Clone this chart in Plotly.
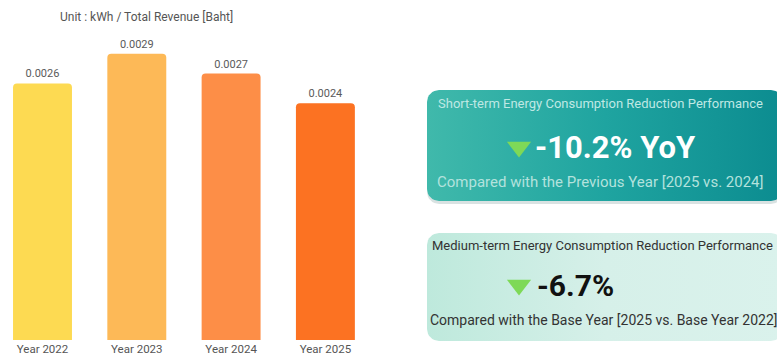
import math
import plotly.graph_objects as go

# Energy intensity per year
years = ["Year 2022", "Year 2023", "Year 2024", "Year 2025"]
intensity = [0.0026, 0.0029, 0.0027, 0.0024]
bar_colors = ["#FDDA52", "#FDB957", "#FD8E47", "#FC7222"]

unit_label = "Unit : kWh / Total Revenue [Baht]"

short_title = "Short-term Energy Consumption Reduction Performance"
short_value = "-10.2% YoY"
short_note = "Compared with the Previous Year [2025 vs. 2024]"

mid_title = "Medium-term Energy Consumption Reduction Performance"
mid_value = "-6.7%"
mid_note = "Compared with the Base Year [2025 vs. Base Year 2022]"

W, H = 777, 360
FONT = "Roboto"


def rounded_rect(x0, y0, x1, y1, r, n=8):
    """Closed outline of a rounded rectangle in pixel space (y grows downward)."""
    xs, ys = [], []
    corners = [
        (x1 - r, y0 + r, -90, 0),
        (x1 - r, y1 - r, 0, 90),
        (x0 + r, y1 - r, 90, 180),
        (x0 + r, y0 + r, 180, 270),
    ]
    for cx, cy, a0, a1 in corners:
        for i in range(n + 1):
            a = math.radians(a0 + (a1 - a0) * i / n)
            xs.append(cx + r * math.cos(a))
            ys.append(cy + r * math.sin(a))
    xs.append(xs[0])
    ys.append(ys[0])
    return xs, ys


fig = go.Figure()

fig.add_trace(go.Bar(
    x=years,
    y=intensity,
    width=0.625,
    marker=dict(color=bar_colors, cornerradius=4, line=dict(width=0)),
    text=[f"{v:.4f}" for v in intensity],
    textposition="outside",
    textfont=dict(family=FONT, size=11, color="#5A5A5A"),
    cliponaxis=False,
    hoverinfo="skip",
    showlegend=False,
    xaxis="x",
    yaxis="y",
))

# Panel backgrounds
bx0, bx1 = 427, 777
sx, sy = rounded_rect(bx0, 90, bx1 + 6, 201, 12)
fig.add_trace(go.Scatter(
    x=sx, y=[v + 3 for v in sy], mode="lines", fill="toself",
    fillcolor="rgba(0,60,60,0.15)", line=dict(width=0),
    hoverinfo="skip", showlegend=False, xaxis="x2", yaxis="y2",
))
fig.add_trace(go.Scatter(
    x=sx, y=sy, mode="lines", fill="toself",
    fillgradient=dict(type="horizontal",
                      colorscale=[[0, "#40B9AB"], [0.5, "#1FA4A0"], [1, "#0C8C90"]]),
    line=dict(width=0), hoverinfo="skip", showlegend=False, xaxis="x2", yaxis="y2",
))
mx, my = rounded_rect(bx0, 233, bx1 + 6, 341, 12)
fig.add_trace(go.Scatter(
    x=mx, y=my, mode="lines", fill="toself",
    fillgradient=dict(type="horizontal",
                      colorscale=[[0, "#BEE9DC"], [0.5, "#D6F0E9"], [1, "#DAF2EC"]]),
    line=dict(width=0), hoverinfo="skip", showlegend=False, xaxis="x2", yaxis="y2",
))

# Down arrows
fig.add_trace(go.Scatter(
    x=[519, 519], y=[147, 285], mode="markers",
    marker=dict(symbol="triangle-down", size=21, color="#7ED957", line=dict(width=0)),
    hoverinfo="skip", showlegend=False, xaxis="x2", yaxis="y2",
))

annotations = [
    dict(text=unit_label, x=58, y=17, xanchor="left", yanchor="middle",
         font=dict(family=FONT, size=12, color="#555555")),
    dict(text=short_title, x=600, y=103, xanchor="center", yanchor="middle",
         font=dict(family=FONT, size=13, color="#BFE8E4")),
    dict(text=f"<b>{short_value}</b>", x=533, y=147, xanchor="left", yanchor="middle",
         font=dict(family=FONT, size=31, color="#FFFFFF")),
    dict(text=short_note, x=600, y=182, xanchor="center", yanchor="middle",
         font=dict(family=FONT, size=15, color="#B3E2DD")),
    dict(text=mid_title, x=602, y=245, xanchor="center", yanchor="middle",
         font=dict(family=FONT, size=13, color="#333333")),
    dict(text=f"<b>{mid_value}</b>", x=535, y=285, xanchor="left", yanchor="middle",
         font=dict(family=FONT, size=30, color="#111111")),
    dict(text=mid_note, x=604, y=320, xanchor="center", yanchor="middle",
         font=dict(family=FONT, size=14, color="#333333")),
]
for a in annotations:
    a.update(xref="x2", yref="y2", showarrow=False)

fig.update_layout(
    width=W, height=H,
    margin=dict(l=0, r=0, t=0, b=0),
    paper_bgcolor="white",
    plot_bgcolor="rgba(0,0,0,0)",
    xaxis=dict(domain=[0, 390 / W], range=[-0.4507, 3.685], showgrid=False,
               zeroline=False, showline=False, ticks="", anchor="y",
               tickfont=dict(family=FONT, size=11.5, color="#555555"),
               fixedrange=True),
    yaxis=dict(domain=[20 / H, 1], range=[0, 0.003445], visible=False,
               showgrid=False, fixedrange=True, anchor="x"),
    xaxis2=dict(domain=[0, 1], range=[0, W], visible=False, anchor="y2",
                fixedrange=True),
    yaxis2=dict(domain=[0, 1], range=[H, 0], visible=False, anchor="x2",
                fixedrange=True),
    annotations=annotations,
)

fig.write_html("out.html")
